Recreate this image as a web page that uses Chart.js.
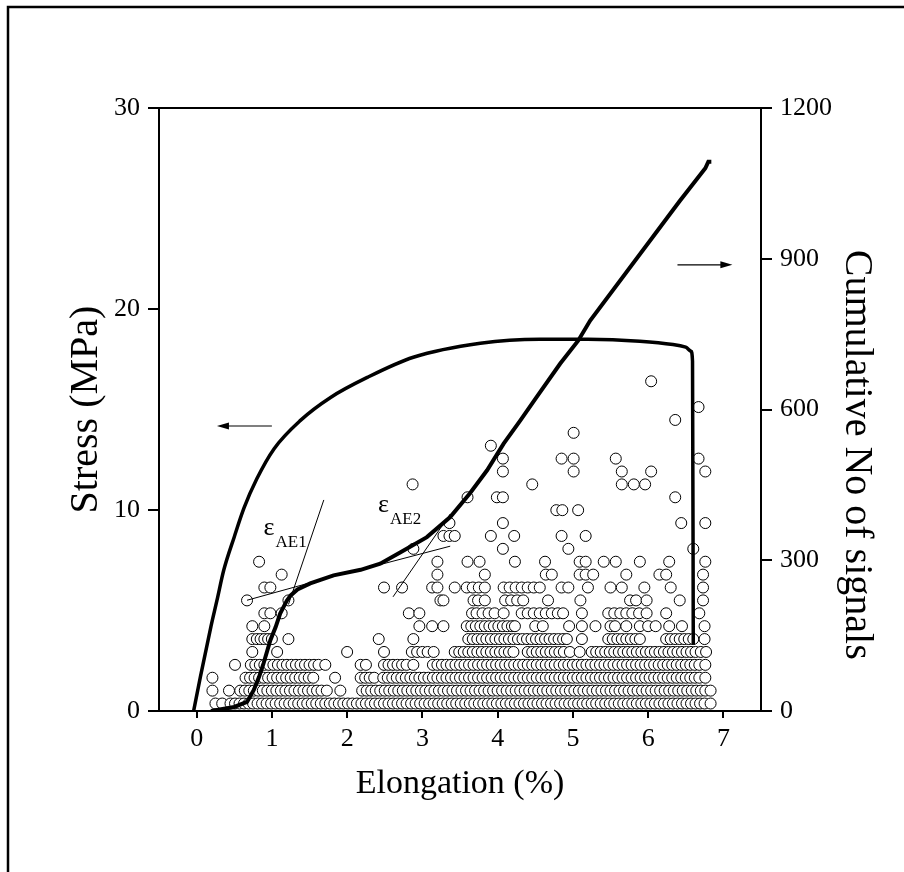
<!DOCTYPE html>
<html>
<head>
<meta charset="utf-8">
<script src="https://cdn.jsdelivr.net/npm/chart.js@4.4.1/dist/chart.umd.min.js"></script>
<style>
html, body { margin: 0; padding: 0; background: #fff; }
</style>
</head>
<body>
<canvas id="chart" width="904" height="872"></canvas>
<script>
// stress-strain curve (left axis, MPa)
var stressX = [-0.04, 0.05, 0.19, 0.27, 0.36, 0.5, 0.63, 0.8, 1.03, 1.38, 1.78, 2.27, 2.88, 3.77, 4.56, 5.2, 5.89, 6.33, 6.5, 6.57, 6.59, 6.6];
var stressY = [0, 1.7, 4.2, 5.5, 7.0, 8.66, 10.1, 11.55, 13.05, 14.46, 15.6, 16.6, 17.6, 18.3, 18.5, 18.5, 18.4, 18.23, 18.1, 17.9, 17.4, 3.3];

// cumulative number of AE signals (right axis)
var cumX = [0.19, 0.5, 0.67, 0.76, 0.83, 0.89, 0.98, 1.05, 1.11, 1.2, 1.25, 1.34, 1.51, 1.82, 2.18, 2.44, 2.71, 3.06, 3.37, 3.63, 3.86, 4.08, 4.3, 4.52, 4.83, 5.07, 5.23, 6.42, 6.76, 6.8, 6.84];
var cumY = [0, 8, 18, 42, 68, 95, 141, 167, 194, 220, 230, 242, 254, 270, 281, 293, 316, 346, 386, 433, 479, 532, 578, 625, 691, 737, 777, 1015, 1080, 1093, 1093];

// tangent construction lines (left axis units)
var tan1aX = [0.67, 1.51], tan1aY = [5.51, 6.38];
var tan1bX = [1.22, 1.69], tan1bY = [5.3, 10.5];
var tan2aX = [2.2, 3.37], tan2aY = [7.05, 8.2];
var tan2bX = [2.61, 3.37], tan2bY = [5.68, 9.8];

// AE hits: hitRows[n-1] = elongations where n hits were counted
var hitRows = [
  [0.25,0.34,0.45,0.51,0.57,0.63,0.69,0.75,0.81,0.87,0.93,0.99,1.05,1.11,1.17,1.23,1.29,1.35,1.41,1.47,1.53,1.59,1.65,1.71,1.77,1.83,1.89,1.95,2.01,2.07,2.13,2.19,2.25,2.31,2.37,2.43,2.49,2.55,2.61,2.67,2.73,2.79,2.85,2.91,2.97,3.03,3.09,3.15,3.21,3.27,3.33,3.39,3.45,3.51,3.57,3.63,3.69,3.75,3.81,3.87,3.93,3.99,4.05,4.11,4.17,4.23,4.29,4.35,4.41,4.47,4.53,4.59,4.65,4.71,4.77,4.83,4.89,4.95,5.01,5.07,5.13,5.19,5.25,5.31,5.37,5.43,5.49,5.55,5.61,5.67,5.73,5.79,5.85,5.91,5.97,6.03,6.09,6.15,6.21,6.27,6.33,6.39,6.45,6.51,6.57,6.63,6.69,6.75,6.83],
  [0.21,0.43,0.58,0.64,0.70,0.76,0.82,0.88,0.94,1.00,1.06,1.12,1.18,1.24,1.30,1.36,1.42,1.48,1.54,1.60,1.66,1.73,1.91,2.20,2.26,2.32,2.38,2.44,2.50,2.56,2.62,2.68,2.74,2.80,2.86,2.92,2.98,3.04,3.10,3.16,3.22,3.28,3.34,3.40,3.46,3.52,3.58,3.64,3.70,3.76,3.82,3.88,3.94,4.00,4.06,4.12,4.18,4.24,4.30,4.36,4.42,4.48,4.54,4.60,4.66,4.72,4.78,4.84,4.90,4.96,5.02,5.08,5.14,5.20,5.26,5.32,5.38,5.44,5.50,5.56,5.62,5.68,5.74,5.80,5.86,5.92,5.98,6.04,6.10,6.16,6.22,6.28,6.34,6.40,6.46,6.52,6.58,6.64,6.70,6.76,6.83],
  [0.21,0.65,0.71,0.77,0.83,0.89,0.95,1.01,1.07,1.13,1.19,1.25,1.31,1.37,1.43,1.49,1.55,1.84,2.18,2.24,2.30,2.36,2.48,2.54,2.60,2.66,2.72,2.78,2.84,2.90,2.96,3.02,3.08,3.14,3.20,3.26,3.32,3.38,3.44,3.50,3.56,3.62,3.68,3.74,3.80,3.86,3.92,3.98,4.04,4.10,4.16,4.22,4.28,4.34,4.40,4.46,4.52,4.58,4.64,4.70,4.76,4.82,4.88,4.94,5.00,5.06,5.12,5.18,5.24,5.30,5.36,5.42,5.48,5.54,5.60,5.66,5.72,5.78,5.84,5.90,5.96,6.02,6.08,6.14,6.20,6.26,6.32,6.38,6.44,6.50,6.56,6.62,6.68,6.76],
  [0.51,0.72,0.78,0.84,0.90,0.96,1.02,1.08,1.14,1.20,1.26,1.32,1.38,1.44,1.50,1.56,1.62,1.71,2.18,2.25,2.49,2.55,2.61,2.67,2.73,2.79,2.88,3.14,3.20,3.26,3.32,3.38,3.44,3.50,3.56,3.62,3.68,3.74,3.80,3.86,3.92,3.98,4.04,4.10,4.16,4.22,4.28,4.34,4.40,4.46,4.52,4.58,4.64,4.70,4.76,4.82,4.88,4.94,5.00,5.06,5.12,5.18,5.24,5.30,5.36,5.42,5.48,5.54,5.60,5.66,5.72,5.78,5.84,5.90,5.96,6.02,6.08,6.14,6.20,6.26,6.32,6.38,6.44,6.50,6.56,6.62,6.68,6.76],
  [0.74,1.07,2.00,2.49,2.86,2.93,3.00,3.07,3.15,3.43,3.49,3.55,3.61,3.67,3.73,3.79,3.85,3.91,3.97,4.03,4.09,4.15,4.21,4.40,4.46,4.52,4.58,4.64,4.70,4.76,4.82,4.88,4.96,5.09,5.25,5.31,5.37,5.43,5.49,5.55,5.61,5.67,5.73,5.79,5.85,5.91,5.97,6.03,6.09,6.15,6.21,6.27,6.33,6.39,6.45,6.51,6.57,6.63,6.70,6.77],
  [0.74,0.80,0.85,0.90,0.95,1.00,1.22,2.42,2.88,3.61,3.67,3.73,3.79,3.85,3.91,3.97,4.03,4.09,4.15,4.21,4.27,4.33,4.39,4.45,4.51,4.57,4.63,4.69,4.75,4.81,4.87,4.92,5.12,5.47,5.53,5.59,5.65,5.71,5.77,5.83,5.89,6.24,6.30,6.36,6.42,6.48,6.54,6.60,6.75],
  [0.74,0.90,2.96,3.13,3.28,3.59,3.65,3.71,3.77,3.83,3.89,3.95,4.01,4.07,4.13,4.19,4.23,4.50,4.60,4.95,5.12,5.30,5.50,5.56,5.71,5.89,6.00,6.10,6.28,6.45,6.75],
  [0.90,0.98,1.13,2.82,2.96,3.66,3.72,3.80,3.88,3.96,4.08,4.32,4.40,4.48,4.56,4.64,4.72,4.80,4.87,5.12,5.47,5.55,5.63,5.71,5.79,5.88,5.98,6.24,6.68],
  [0.67,1.22,3.24,3.28,3.68,3.74,3.83,4.10,4.18,4.26,4.34,4.67,5.10,5.76,5.84,5.98,6.42,6.73],
  [0.90,0.98,2.49,2.73,3.13,3.20,3.43,3.59,3.67,3.75,3.83,4.08,4.16,4.24,4.32,4.40,4.48,4.56,4.85,4.94,5.20,5.50,5.65,5.95,6.30,6.73],
  [1.13,3.20,3.83,4.64,4.72,5.09,5.17,5.27,5.71,6.15,6.24,6.73],
  [0.83,3.20,3.60,3.76,4.23,4.63,5.09,5.17,5.41,5.57,5.89,6.28,6.76],
  [2.88,4.07,4.94,6.60],
  [3.28,3.36,3.43,3.91,4.22,4.85,5.17],
  [3.36,4.07,6.44,6.76],
  [4.78,4.86,5.07],
  [3.60,3.99,4.07,6.36],
  [2.87,4.46,5.65,5.81,5.96],
  [4.07,5.01,5.65,6.04,6.76],
  [4.07,4.85,5.01,5.57,6.67],
  [3.91],
  [5.01],
  [6.36],
  [6.67],
  [],
  [6.04]
];

var xTicks = [0, 1, 2, 3, 4, 5, 6, 7];
var stressTicks = [0, 10, 20, 30];
var cumTicks = [0, 300, 600, 900, 1200];

function pairs(xs, ys) {
  return xs.map(function (x, i) { return { x: x, y: ys[i] }; });
}

var hitPoints = [];
hitRows.forEach(function (row, i) {
  row.forEach(function (x) { hitPoints.push({ x: x, y: i + 1 }); });
});

var FONT = "'Liberation Serif', 'Times New Roman', serif";

function fixedTicks(values) {
  return function (scale) {
    scale.ticks = values.map(function (v) { return { value: v }; });
  };
}

function plainLabel(v) { return String(v); }

function thinLine(xs, ys) {
  return {
    data: pairs(xs, ys), yAxisID: 'y', showLine: true,
    borderColor: '#000', borderWidth: 1, pointRadius: 0, order: 2
  };
}

// arrows, eps labels, right title, frame, top border
var decor = {
  id: 'decor',
  afterDraw: function (chart) {
    var ctx = chart.ctx, a = chart.chartArea;
    var sx = chart.scales.x, sy = chart.scales.y, sc = chart.scales.y2;
    ctx.save();
    ctx.strokeStyle = '#000';
    ctx.fillStyle = '#000';

    ctx.lineWidth = 2.5;
    ctx.beginPath();
    ctx.moveTo(8, 872); ctx.lineTo(8, 7); ctx.lineTo(904, 7);
    ctx.stroke();

    ctx.lineWidth = 2;
    ctx.beginPath();
    ctx.moveTo(a.left, a.top); ctx.lineTo(a.right, a.top);
    ctx.stroke();

    function arrow(x1, y1, x2, y2) {
      var dir = x2 > x1 ? 1 : -1;
      ctx.lineWidth = 1.2;
      ctx.beginPath(); ctx.moveTo(x1, y1); ctx.lineTo(x2 - dir * 8, y2); ctx.stroke();
      ctx.beginPath();
      ctx.moveTo(x2, y2);
      ctx.lineTo(x2 - dir * 12, y2 - 3.5);
      ctx.lineTo(x2 - dir * 12, y2 + 3.5);
      ctx.closePath(); ctx.fill();
    }
    arrow(sx.getPixelForValue(1.0), sy.getPixelForValue(14.18), sx.getPixelForValue(0.27), sy.getPixelForValue(14.18));
    arrow(sx.getPixelForValue(6.39), sc.getPixelForValue(888), sx.getPixelForValue(7.12), sc.getPixelForValue(888));

    function eps(x, y, sub) {
      var px = sx.getPixelForValue(x), py = sy.getPixelForValue(y);
      ctx.textBaseline = 'alphabetic';
      ctx.textAlign = 'left';
      ctx.font = '26px ' + FONT;
      ctx.fillText('\u03b5', px, py);
      ctx.font = '17px ' + FONT;
      ctx.fillText(sub, px + 12, py + 12);
    }
    eps(0.89, 8.74, 'AE1');
    eps(2.41, 9.89, 'AE2');

    // right axis title, set a little below the axis centre as in the source figure
    ctx.translate(a.right + 95, sc.getPixelForValue(510));
    ctx.rotate(Math.PI / 2);
    ctx.textAlign = 'center';
    ctx.textBaseline = 'middle';
    ctx.font = '40px ' + FONT;
    ctx.fillText('Cumulative No of signals', 0, 0);
    ctx.restore();
  }
};

var axisGrid = { drawOnChartArea: false, drawTicks: true, color: '#000', lineWidth: 2 };

new Chart(document.getElementById('chart').getContext('2d'), {
  type: 'scatter',
  data: {
    datasets: [
      {
        data: pairs(stressX, stressY), yAxisID: 'y', showLine: true,
        borderColor: '#000', borderWidth: 3.5, pointRadius: 0,
        cubicInterpolationMode: 'monotone', order: 1
      },
      {
        data: pairs(cumX, cumY), yAxisID: 'y2', showLine: true,
        borderColor: '#000', borderWidth: 4, pointRadius: 0, order: 0
      },
      thinLine(tan1aX, tan1aY),
      thinLine(tan1bX, tan1bY),
      thinLine(tan2aX, tan2aY),
      thinLine(tan2bX, tan2bY),
      {
        data: hitPoints, yAxisID: 'yHits',
        pointRadius: 5.5, pointBorderWidth: 1,
        borderColor: '#000', backgroundColor: '#fff', order: 5
      }
    ]
  },
  options: {
    responsive: false,
    animation: false,
    devicePixelRatio: 1,
    layout: { padding: { top: 108, left: 0, right: 0, bottom: 0 } },
    plugins: { legend: { display: false }, tooltip: { enabled: false } },
    scales: {
      x: {
        type: 'linear', min: -0.5, max: 7.5,
        afterBuildTicks: fixedTicks(xTicks),
        afterFit: function (s) { s.height = 161; },
        grid: Object.assign({ tickLength: 7 }, axisGrid),
        border: { display: true, color: '#000', width: 2 },
        ticks: { color: '#000', padding: 6, callback: plainLabel, font: { family: FONT, size: 26 } },
        title: {
          display: true, text: 'Elongation (%)', color: '#000',
          font: { family: FONT, size: 34 }, padding: { top: 0, bottom: 68 }
        }
      },
      y: {
        type: 'linear', position: 'left', min: 0, max: 30,
        afterBuildTicks: fixedTicks(stressTicks),
        afterFit: function (s) { s.width = 159; },
        grid: Object.assign({ tickLength: 11 }, axisGrid),
        border: { display: true, color: '#000', width: 2 },
        ticks: { color: '#000', padding: 8, callback: plainLabel, font: { family: FONT, size: 26 } },
        title: {
          display: true, text: 'Stress (MPa)', color: '#000',
          font: { family: FONT, size: 40 }, padding: { top: 62, bottom: 0 }
        }
      },
      y2: {
        type: 'linear', position: 'right', min: 0, max: 1200,
        afterBuildTicks: fixedTicks(cumTicks),
        afterFit: function (s) { s.width = 143; },
        grid: Object.assign({ tickLength: 11 }, axisGrid),
        border: { display: true, color: '#000', width: 2 },
        ticks: { color: '#000', padding: 8, callback: plainLabel, font: { family: FONT, size: 26 } }
      },
      yHits: { type: 'linear', display: false, min: 0.42, max: 47.2 }
    }
  },
  plugins: [decor]
});
</script>
</body>
</html>
